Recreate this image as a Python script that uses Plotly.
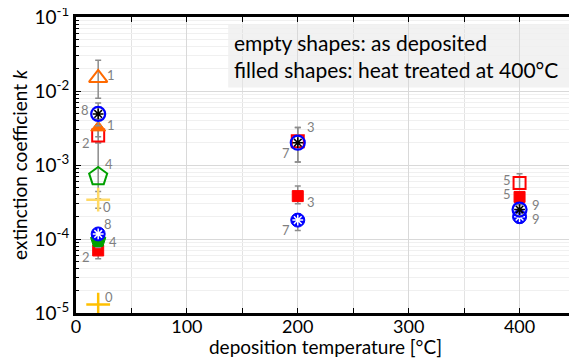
import math
import plotly.graph_objects as go

# ---------------- data ----------------
# orange triangles (sample 1)
tri_x = [20]
tri_open_k = [0.015]
tri_open_ep = [0.011]
tri_open_em = [0.007]
tri_fill_k = [0.0032]
tri_fill_ep = [0.001]
tri_fill_em = [0.0008]
tri_labels = ["1"]

# red squares (samples 2, 3, 5)
sq_x = [20, 200, 400]
sq_open_k = [0.0025, 0.0021, 0.00057]
sq_open_ep = [0.0007, 0.0011, 0.00019]
sq_open_em = [0.0005, 0.0010, 0.0001]
sq_fill_k = [0.00007, 0.00038, 0.00037]
sq_fill_ep = [0.000015, 0.00014, 0.00005]
sq_fill_em = [0.000016, 0.00008, 0.00005]
sq_labels = ["2", "3", "5"]

# green pentagons (sample 4)
pent_x = [20]
pent_open_k = [0.0007]
pent_open_ep = [0.0013]
pent_open_em = [0.00035]
pent_fill_k = [0.000097]
pent_fill_ep = [0.00002]
pent_fill_em = [0.00002]
pent_labels = ["4"]

# blue circles with asterisk (samples 8, 7, 9)
circ_x = [20, 200, 400]
circ_open_k = [0.0049, 0.0020, 0.00025]
circ_open_ep = [0.002, 0.0012, 0.00004]
circ_open_em = [0.0015, 0.0009, 0.00004]
circ_fill_k = [0.000117, 0.00018, 0.00020]
circ_fill_ep = [0.000023, 0.00004, 0.00003]
circ_fill_em = [0.00002, 0.00005, 0.000035]
circ_labels = ["8", "7", "9"]

# yellow crosses (sample 0)
cross_x = [20]
cross_up_k = [0.00034]
cross_up_ep = [0.0001]
cross_up_em = [0.00008]
cross_low_k = [0.000013]
cross_labels = ["0"]

x_ticks = [0, 100, 200, 300, 400]
y_ticks = [1e-5, 1e-4, 1e-3, 1e-2, 1e-1]
y_ticktext = ["10<sup>-5</sup>", "10<sup>-4</sup>", "10<sup>-3</sup>",
              "10<sup>-2</sup>", "10<sup>-1</sup>"]
y_minor = [m * 10.0 ** e for e in range(-5, -1) for m in range(2, 10)]

# ---------------- styles ----------------
ORANGE = "#ff6a00"
RED = "#ff0000"
GREEN = "#00a000"
BLUE = "#0000ff"
YEL_L = "#ffd966"
YEL_D = "#ffc000"
ERR = "#8c8c8c"
FONT = "Lato"

fig = go.Figure()


def err(ep, em):
    return dict(type="data", symmetric=False, array=ep, arrayminus=em,
                color=ERR, thickness=1.5, width=3)


def add(x, y, symbol, size, color, lw, ep=None, em=None):
    fig.add_trace(go.Scatter(
        x=x, y=y, mode="markers",
        marker=dict(symbol=symbol, size=size, color=color,
                    line=dict(color=color, width=lw)),
        error_y=err(ep, em) if ep is not None else None,
        showlegend=False, hoverinfo="skip"))


add(tri_x, tri_open_k, "triangle-up-open", 16, ORANGE, 2, tri_open_ep, tri_open_em)
add(pent_x, pent_open_k, "pentagon-open", 19, GREEN, 2, pent_open_ep, pent_open_em)
add(cross_x, cross_up_k, "cross-thin-open", 17, YEL_L, 2.5, cross_up_ep, cross_up_em)
add(cross_x, cross_low_k, "cross-thin-open", 17, YEL_D, 2.5)
add(sq_x, sq_fill_k, "square", 11, RED, 1, sq_fill_ep, sq_fill_em)
add(pent_x, pent_fill_k, "pentagon", 16, GREEN, 1, pent_fill_ep, pent_fill_em)
add(sq_x, sq_open_k, "square-open", 12, RED, 2, sq_open_ep, sq_open_em)
add(tri_x, tri_fill_k, "triangle-up", 13, ORANGE, 1, tri_fill_ep, tri_fill_em)
add(circ_x, circ_fill_k, "circle", 14, BLUE, 1, circ_fill_ep, circ_fill_em)
add(circ_x, circ_fill_k, "asterisk-open", 9, "white", 1.5)
add(circ_x, circ_open_k, "circle-open", 14, BLUE, 2.2, circ_open_ep, circ_open_em)
add(circ_x, circ_open_k, "asterisk-open", 9, "black", 1.5)

# sample number labels
LBL = dict(showarrow=False, font=dict(family=FONT, size=13, color="#7f7f7f"))


def labels(xs, ys, texts, offs):
    for xv, yv, t, (dx, dy) in zip(xs, ys, texts, offs):
        fig.add_annotation(x=xv, y=math.log10(yv), yref="y", xref="x", text=t,
                           xshift=dx, yshift=-dy, **LBL)


labels(tri_x, tri_open_k, tri_labels, [(13, -3)])
labels(tri_x, tri_fill_k, tri_labels, [(13, -3)])
labels(circ_x, circ_open_k, circ_labels, [(-13, -4), (-12, 10), (16, -5)])
labels(circ_x, circ_fill_k, circ_labels, [(10, -10), (-12, 10), (16, 2)])
labels(sq_x, sq_open_k, sq_labels, [(-12, 7), (13, -14), (-13, -3)])
labels(sq_x, sq_fill_k, sq_labels, [(-12, 7), (13, 6), (-13, -3)])
labels(pent_x, pent_open_k, pent_labels, [(11, -12)])
labels(pent_x, pent_fill_k, pent_labels, [(15, 2)])
labels(cross_x, cross_up_k, cross_labels, [(9, 7)])
labels(cross_x, cross_low_k, cross_labels, [(11, -8)])

# info box
fig.add_shape(type="rect", xref="paper", yref="paper",
              x0=0.305, x1=0.992, y0=0.762, y1=0.973,
              fillcolor="#f2f2f2", line=dict(width=0), layer="below")
fig.add_annotation(xref="paper", yref="paper", x=0.313, y=0.962,
                   xanchor="left", yanchor="top", align="left", showarrow=False,
                   text="empty shapes: as deposited<br>filled shapes: heat treated at 400°C",
                   font=dict(family=FONT, size=21, color="black"))

fig.update_layout(
    template="none",
    width=569, height=350,
    margin=dict(l=68, r=2, t=9, b=45),
    plot_bgcolor="white", paper_bgcolor="white",
    font=dict(family=FONT, size=19, color="black"),
    xaxis=dict(range=[0, 450], tickvals=x_ticks, automargin=False,
               ticks="inside", ticklen=5, tickcolor="black",
               showline=True, linecolor="black", linewidth=3, mirror="allticks",
               showgrid=True, gridcolor="#d9d9d9", gridwidth=1,
               minor=dict(dtick=50, tick0=0, ticks="inside", ticklen=5,
                          tickcolor="black", showgrid=True, gridcolor="#e3e3e3"),
               zeroline=False, ticklabelstandoff=-5, ticklabeloverflow="allow",
               tickfont=dict(size=18),
               title=dict(text="deposition temperature [°C]", standoff=0,
                          font=dict(size=19))),
    yaxis=dict(type="log", range=[-5, -1], tickvals=y_ticks, ticktext=y_ticktext,
               automargin=False, ticklabeloverflow="allow",
               ticks="inside", ticklen=5, tickcolor="black",
               showline=True, linecolor="black", linewidth=3, mirror="allticks",
               showgrid=True, gridcolor="#d9d9d9", gridwidth=1,
               minor=dict(tickmode="array", tickvals=y_minor, ticks="inside",
                          ticklen=3, tickcolor="black",
                          showgrid=True, gridcolor="#f0f0f0"),
               zeroline=False,
               tickfont=dict(size=19),
               title=dict(text="extinction coefficient <i>k</i>", standoff=6,
                          font=dict(size=19))),
)

fig.write_html("out.html")
